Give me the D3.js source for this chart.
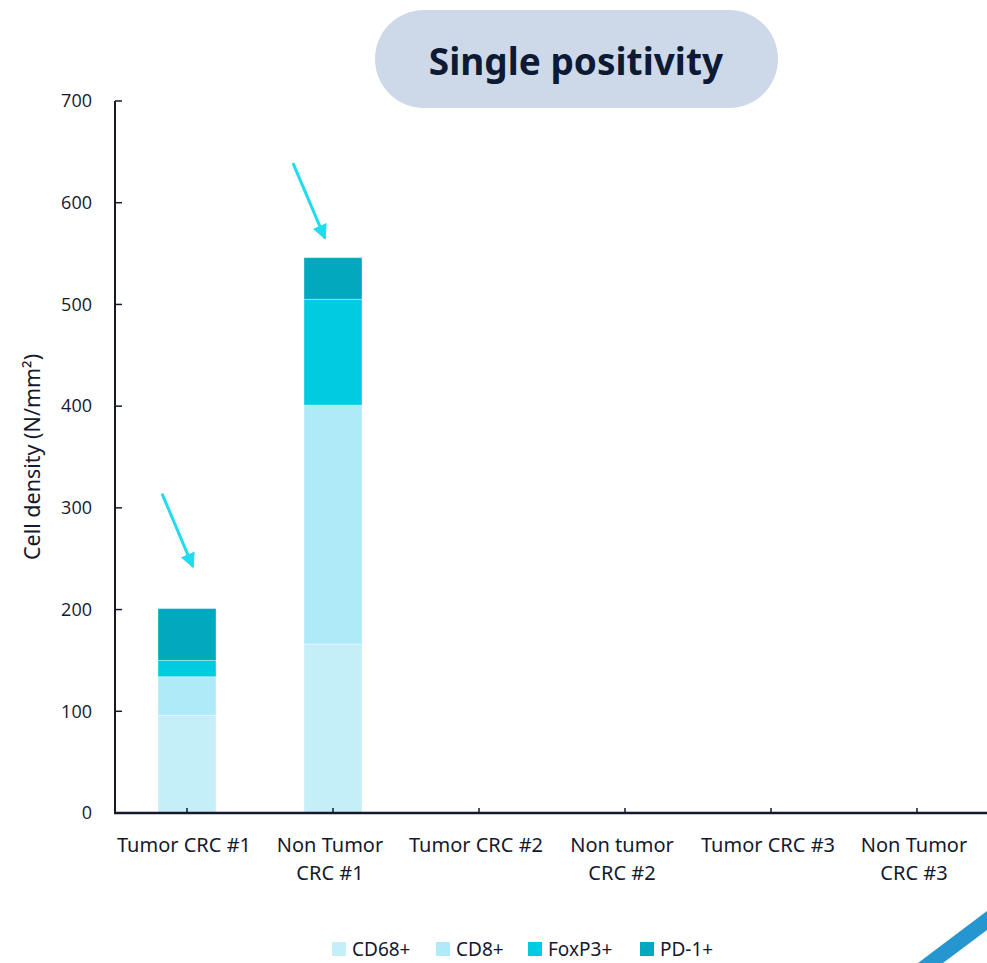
<!DOCTYPE html>
<html>
<head>
<meta charset="utf-8">
<script src="https://cdn.jsdelivr.net/npm/d3@7"></script>
<style>
  body { margin: 0; background: #fff; }
  svg { display: block; }
</style>
</head>
<body>
<svg width="987" height="963"></svg>
<script>
// data
categories = ["Tumor CRC #1", "Non Tumor CRC #1", "Tumor CRC #2", "Non tumor CRC #2", "Tumor CRC #3", "Non Tumor CRC #3"]
labelLines = [["Tumor CRC #1"], ["Non Tumor", "CRC #1"], ["Tumor CRC #2"], ["Non tumor", "CRC #2"], ["Tumor CRC #3"], ["Non Tumor", "CRC #3"]]
seriesNames = ["CD68+", "CD8+", "FoxP3+", "PD-1+"]
cd68 = [96, 166, 0, 0, 0, 0]
cd8 = [38, 235, 0, 0, 0, 0]
foxp3 = [16, 104, 0, 0, 0, 0]
pd1 = [51, 41, 0, 0, 0, 0]
yTicks = [0, 100, 200, 300, 400, 500, 600, 700]
// arrow annotations: tail / tip in data units
arrowCats = ["Tumor CRC #1", "Non Tumor CRC #1"]
arrowTail = [314, 639]
arrowTip = [242, 565]

colors = ["#c5eff8", "#aeeaf7", "#00cbe0", "#00a9bd"]
const ink = "#14192e"
const numFont = "'Open Sans', sans-serif"
const txtFont = "'Noto Sans', sans-serif"

rows = categories.map((c, i) => ({cat: c, "CD68+": cd68[i], "CD8+": cd8[i], "FoxP3+": foxp3[i], "PD-1+": pd1[i]}))

stack = d3.stack().keys(seriesNames)
layers = stack(rows)

x = d3.scaleBand()
  .domain(categories)
  .range([114, 990])

y = d3.scaleLinear()
  .domain([0, 700])
  .range([813, 101])

color = d3.scaleOrdinal().domain(seriesNames).range(colors)

chart = function() {
  const svg = d3.select("svg")
  const mid = c => x(c) + x.bandwidth() / 2

  // title pill
  const pill = svg.append("g")
  pill.append("rect")
      .attr("x", 375).attr("y", 10)
      .attr("width", 403).attr("height", 98)
      .attr("rx", 49)
      .attr("fill", "#cdd9e8")
  pill.append("text")
      .attr("x", 576).attr("y", 75)
      .attr("text-anchor", "middle")
      .attr("font-family", txtFont)
      .attr("font-weight", "bold")
      .attr("font-size", 37)
      .attr("fill", "#0d1a33")
      .text("Single positivity")

  // bars
  const bw = 58
  svg.append("g")
    .selectAll("g")
    .data(layers)
    .join("g")
      .attr("fill", d => color(d.key))
    .selectAll("rect")
    .data(d => d)
    .join("rect")
      .attr("x", d => mid(d.data.cat) - bw / 2)
      .attr("width", bw)
      .attr("y", d => y(d[1]))
      .attr("height", d => y(d[0]) - y(d[1]))
      .attr("stroke", "#ffffff")
      .attr("stroke-opacity", 0.35)
      .attr("stroke-width", 1)

  // y axis
  const yAxis = svg.append("g")
  yAxis.append("line")
      .attr("x1", 115).attr("x2", 115)
      .attr("y1", y(700)).attr("y2", y(0) + 1)
      .attr("stroke", ink).attr("stroke-width", 2)
  yAxis.selectAll(".tk")
    .data(yTicks)
    .join("line")
      .attr("x1", 115).attr("x2", 122)
      .attr("y1", d => y(d)).attr("y2", d => y(d))
      .attr("stroke", ink).attr("stroke-width", 1.5)
  yAxis.selectAll("text")
    .data(yTicks)
    .join("text")
      .attr("x", 92)
      .attr("y", d => y(d))
      .attr("dy", "0.35em")
      .attr("text-anchor", "end")
      .attr("font-family", numFont)
      .attr("font-size", 18)
      .attr("fill", ink)
      .text(d => d)

  svg.append("text")
      .attr("transform", `translate(40, ${(y(0) + y(700)) / 2}) rotate(-90)`)
      .attr("text-anchor", "middle")
      .attr("font-family", txtFont)
      .attr("font-size", 21.5)
      .attr("fill", ink)
      .text("Cell density (N/mm²)")

  // x axis
  const xAxis = svg.append("g")
  xAxis.append("line")
      .attr("x1", 114).attr("x2", 987)
      .attr("y1", y(0)).attr("y2", y(0))
      .attr("stroke", ink).attr("stroke-width", 2.5)
  xAxis.selectAll("line.tk")
    .data(categories)
    .join("line")
      .attr("class", "tk")
      .attr("x1", d => mid(d))
      .attr("x2", d => mid(d))
      .attr("y1", y(0) - 5).attr("y2", y(0))
      .attr("stroke", ink).attr("stroke-width", 1.5)
  const lbl = xAxis.selectAll("text")
    .data(categories)
    .join("text")
      .attr("text-anchor", "middle")
      .attr("font-family", txtFont)
      .attr("font-size", 20)
      .attr("fill", ink)
  lbl.selectAll("tspan")
    .data((d, i) => labelLines[i].map(t => ({t, cat: d})))
    .join("tspan")
      .attr("x", d => mid(d.cat) - 3)
      .attr("y", (d, j) => 852 + j * 28)
      .text(d => d.t)

  // arrows pointing at the first two stacks
  const defs = svg.append("defs")
  defs.append("marker")
      .attr("id", "head")
      .attr("viewBox", "0 0 10 10")
      .attr("refX", 9).attr("refY", 5)
      .attr("markerWidth", 5).attr("markerHeight", 5)
      .attr("markerUnits", "strokeWidth")
      .attr("orient", "auto")
    .append("path")
      .attr("d", "M0,0L10,5L0,10Z")
      .attr("fill", "#1fdcef")
  const arrowX = [[-25, 6], [-40, -8]]
  svg.append("g")
    .selectAll("line")
    .data(arrowCats)
    .join("line")
      .attr("x1", (d, i) => mid(d) + arrowX[i][0])
      .attr("y1", (d, i) => y(arrowTail[i]))
      .attr("x2", (d, i) => mid(d) + arrowX[i][1])
      .attr("y2", (d, i) => y(arrowTip[i]))
      .attr("stroke", "#1fdcef")
      .attr("stroke-width", 3)
      .attr("marker-end", "url(#head)")

  // legend
  const lg = svg.append("g")
    .selectAll("g")
    .data(seriesNames)
    .join("g")
      .attr("transform", (d, i) => `translate(${[332, 436, 528, 640][i]}, 942)`)
  lg.append("rect")
      .attr("width", 14).attr("height", 14)
      .attr("fill", d => color(d))
  lg.append("text")
      .attr("x", 20).attr("y", 14)
      .attr("font-family", txtFont)
      .attr("font-size", 19)
      .attr("fill", ink)
      .text(d => d)

  // corner decoration
  svg.append("path")
      .attr("d", "M918,963L943,963L987,930L987,911Z")
      .attr("fill", "#2596d0")

  return svg.node()
}

chart()
</script>
</body>
</html>
